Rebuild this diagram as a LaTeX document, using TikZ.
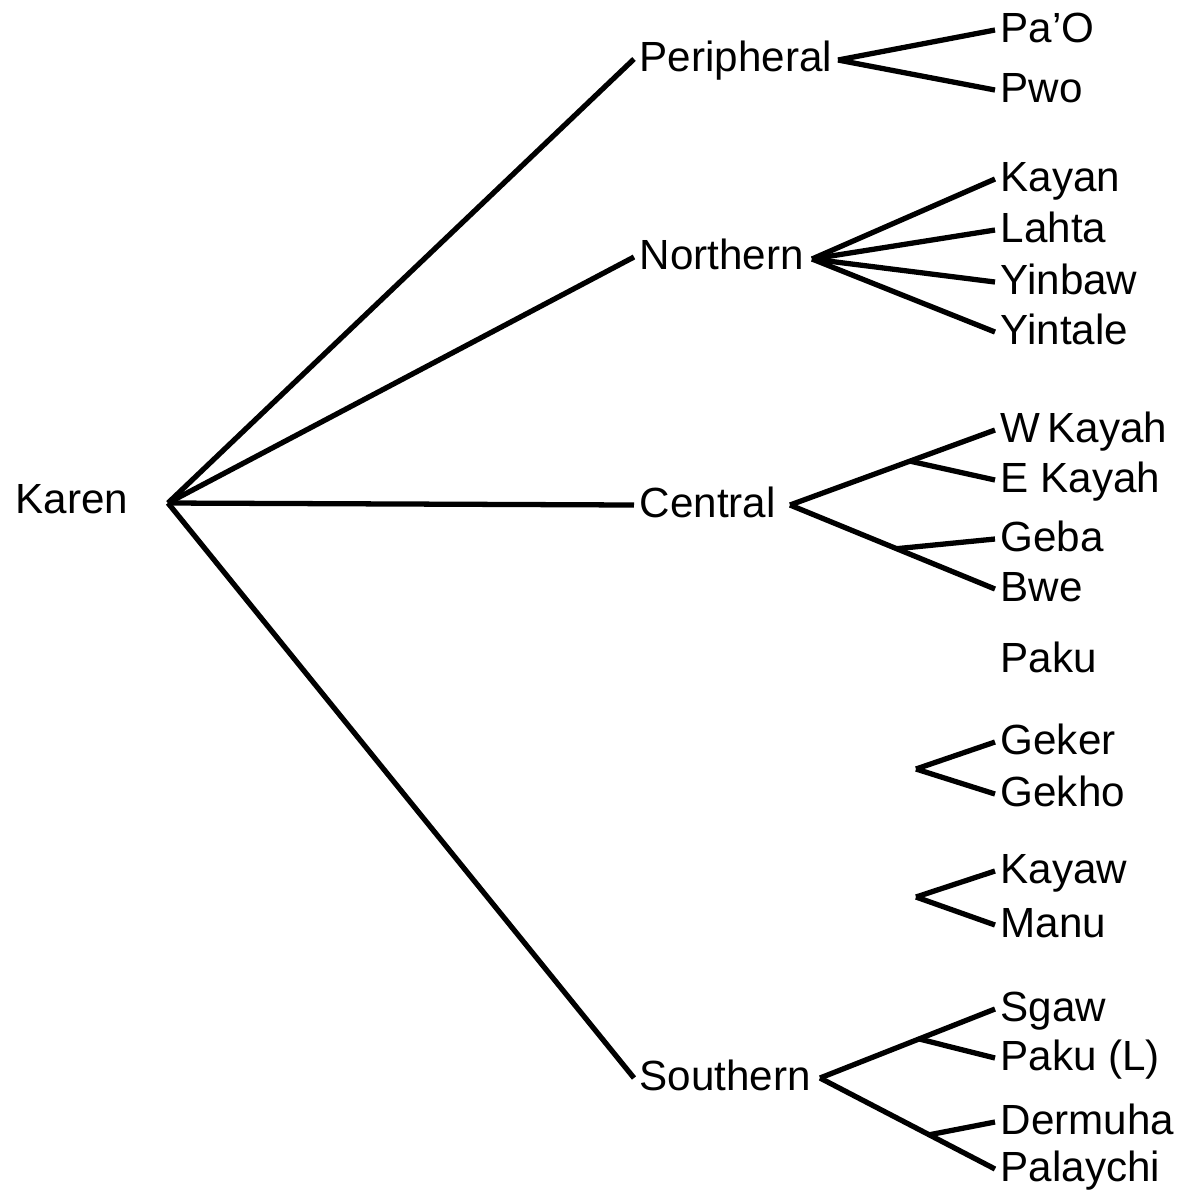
\documentclass[tikz,border=0pt]{standalone}
\usepackage{fontspec}
\setmainfont{Liberation Sans}
\usepackage{tikz}
\usetikzlibrary{calc}

\begin{document}
\begin{tikzpicture}[
    lang/.style={anchor=west, inner xsep=0.05cm, inner ysep=0pt,
                 text height=0.25cm, text depth=0pt,
                 font=\fontsize{12pt}{14pt}\selectfont},
    branch/.style={line width=1.5pt, line join=round}]

\useasboundingbox (0,0) rectangle (11.84,-11.91);

% root and main groups
\node [lang] (karen) at (0.10,-5.01) {Karen};
\coordinate (root) at (1.68,-5.03);

\node [lang] (per) at (6.34,-0.59) {Peripheral};
\node [lang] (nor) at (6.34,-2.57) {Northern};
\node [lang] (cen) at (6.34,-5.05) {Central};
\node [lang] (sou) at (6.34,-10.78) {Southern};

\foreach \g in {per,nor,cen,sou}
    \draw [branch] (root) -- (\g.west);

% forks
\coordinate (pf) at (8.38,-0.60);
\coordinate (nf) at (8.12,-2.59);
\coordinate (cf) at (7.90,-5.05);
\coordinate (gf) at (9.16,-7.69);
\coordinate (kf) at (9.16,-8.97);
\coordinate (sf) at (8.20,-10.78);

% leaves
\foreach \n/\y/\t in {pao/0.30/Pa'O, pwo/0.90/Pwo,
                      kayan/1.79/Kayan, lahta/2.30/Lahta,
                      yinbaw/2.82/Yinbaw, yintale/3.32/Yintale,
                      wkayah/4.30/W\,Kayah, ekayah/4.80/E Kayah,
                      geba/5.39/Geba, bwe/5.89/Bwe,
                      paku/6.60/Paku,
                      geker/7.42/Geker, gekho/7.94/Gekho,
                      kayaw/8.71/Kayaw, manu/9.25/Manu,
                      sgaw/10.09/Sgaw, pakul/10.58/Paku (L),
                      dermuha/11.22/Dermuha, palaychi/11.69/Palaychi}
    \node [lang] (\n) at (9.95,-\y) {\t};

\foreach \n in {pao,pwo}
    \draw [branch] (pf) -- (\n.west);

\foreach \n in {kayan,lahta,yinbaw,yintale}
    \draw [branch] (nf) -- (\n.west);

\draw [branch] (cf) -- (wkayah.west);
\draw [branch] (cf) -- (bwe.west);
\draw [branch] ($(cf)!0.585!(wkayah.west)$) -- (ekayah.west);
\draw [branch] ($(cf)!0.52!(bwe.west)$) -- (geba.west);

\foreach \n in {geker,gekho}
    \draw [branch] (gf) -- (\n.west);

\foreach \n in {kayaw,manu}
    \draw [branch] (kf) -- (\n.west);

\draw [branch] (sf) -- (sgaw.west);
\draw [branch] (sf) -- (palaychi.west);
\draw [branch] ($(sf)!0.566!(sgaw.west)$) -- (pakul.west);
\draw [branch] ($(sf)!0.624!(palaychi.west)$) -- (dermuha.west);

\end{tikzpicture}
\end{document}
